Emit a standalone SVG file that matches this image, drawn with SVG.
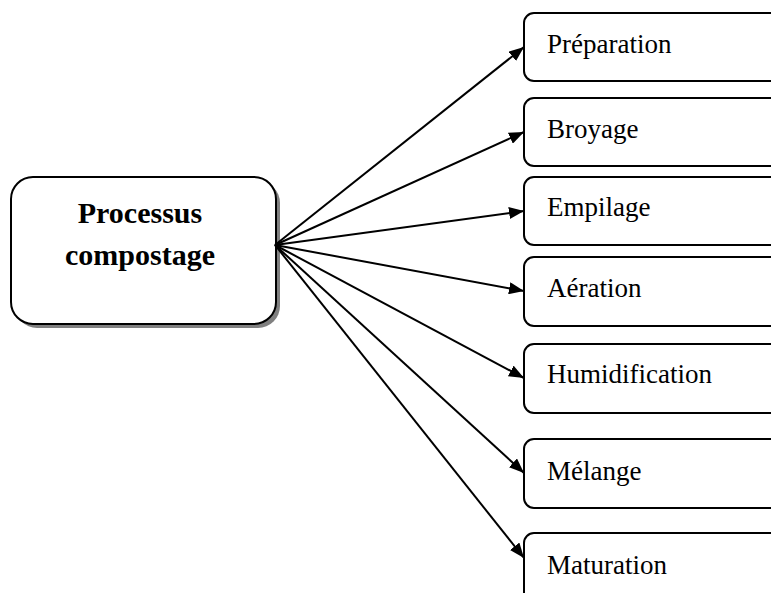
<svg xmlns="http://www.w3.org/2000/svg" width="771" height="593" viewBox="0 0 771 593">
  <style>
    .step rect { fill: #ffffff; stroke: #000000; stroke-width: 2; }
    .step text { font-family: "Liberation Serif", "Times New Roman", serif; font-size: 27px; fill: #000000; }
    .hub text { font-family: "Liberation Serif", "Times New Roman", serif; font-size: 30px; font-weight: bold; fill: #000000; text-anchor: middle; }
    #connectors line { stroke: #000000; stroke-width: 2; marker-end: url(#arrow); }
  </style>
  <defs>
    <marker id="arrow" markerUnits="userSpaceOnUse" markerWidth="16" markerHeight="12" refX="15" refY="6" orient="auto">
      <path d="M0,0 L15,6 L0,12 Z" fill="#000000"/>
    </marker>
  </defs>

  <rect width="771" height="593" fill="#ffffff"/>

  <!-- central node -->
  <g id="processus" class="hub">
    <rect x="15" y="181" width="265" height="147" rx="22" ry="22" fill="#808080"/>
    <rect x="11" y="177" width="265" height="147" rx="22" ry="22" fill="#ffffff" stroke="#000000" stroke-width="2"/>
    <text x="140" y="223">Processus</text>
    <text x="140" y="265">compostage</text>
  </g>

  <!-- connectors -->
  <g id="connectors">
    <line x1="275" y1="245" x2="524" y2="47"/>
    <line x1="275" y1="245" x2="524" y2="132"/>
    <line x1="275" y1="245" x2="524" y2="211"/>
    <line x1="275" y1="245" x2="524" y2="291"/>
    <line x1="275" y1="245" x2="524" y2="378"/>
    <line x1="275" y1="245" x2="524" y2="473"/>
    <line x1="275" y1="245" x2="524" y2="558"/>
  </g>

  <!-- step nodes -->
  <g id="preparation" class="step">
    <rect x="524" y="13" width="270" height="68" rx="10" ry="10"/>
    <text x="547" y="53">Préparation</text>
  </g>
  <g id="broyage" class="step">
    <rect x="524" y="98" width="270" height="68" rx="10" ry="10"/>
    <text x="547" y="138">Broyage</text>
  </g>
  <g id="empilage" class="step">
    <rect x="524" y="177" width="270" height="68" rx="10" ry="10"/>
    <text x="547" y="216">Empilage</text>
  </g>
  <g id="aeration" class="step">
    <rect x="524" y="257" width="270" height="69" rx="10" ry="10"/>
    <text x="547" y="297">Aération</text>
  </g>
  <g id="humidification" class="step">
    <rect x="524" y="344" width="270" height="69" rx="10" ry="10"/>
    <text x="547" y="383">Humidification</text>
  </g>
  <g id="melange" class="step">
    <rect x="524" y="439" width="270" height="69" rx="10" ry="10"/>
    <text x="547" y="480">Mélange</text>
  </g>
  <g id="maturation" class="step">
    <rect x="524" y="533" width="270" height="80" rx="10" ry="10"/>
    <text x="547" y="574">Maturation</text>
  </g>
</svg>
